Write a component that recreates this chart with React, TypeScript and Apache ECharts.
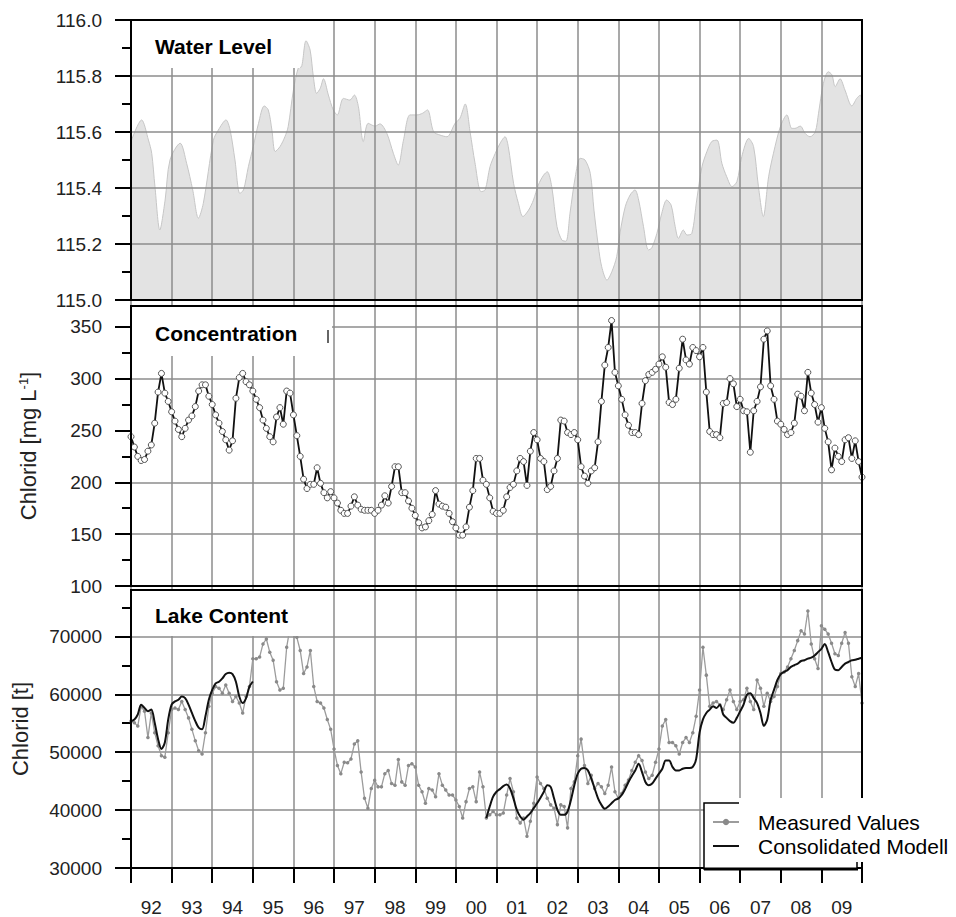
import React, { useEffect, useRef } from 'react';
import * as echarts from 'echarts';

// ---------- data ----------
const yearLabels = ['92', '93', '94', '95', '96', '97', '98', '99', '00', '01', '02', '03', '04', '05', '06', '07', '08', '09'];

// Water level (m), sampled along the curve: time (decimal year) and level
const waterT = [
  1992.0, 1992.26, 1992.43, 1992.51, 1992.59, 1992.71, 1992.84, 1992.96, 1993.21, 1993.37, 1993.52, 1993.66, 1993.78,
  1994.03, 1994.15, 1994.34, 1994.44, 1994.56, 1994.68, 1994.77, 1994.89, 1995.01, 1995.14, 1995.28, 1995.38, 1995.47,
  1995.55, 1995.67, 1995.79, 1995.87, 1996.0, 1996.12, 1996.2, 1996.31, 1996.41, 1996.49, 1996.57, 1996.66, 1996.74,
  1996.86, 1996.98, 1997.08, 1997.23, 1997.39, 1997.5, 1997.6, 1997.72, 1997.84, 1998.01, 1998.13, 1998.3, 1998.46,
  1998.58, 1998.71, 1998.87, 1999.04, 1999.18, 1999.3, 1999.45, 1999.61, 1999.78, 1999.98, 2000.1, 2000.23, 2000.35,
  2000.47, 2000.62, 2000.72, 2000.84, 2000.97, 2001.09, 2001.21, 2001.29, 2001.42, 2001.54, 2001.65, 2001.79, 2001.91,
  2002.03, 2002.16, 2002.25, 2002.36, 2002.49, 2002.61, 2002.71, 2002.81, 2002.94, 2003.06, 2003.18, 2003.31, 2003.4,
  2003.51, 2003.59, 2003.72, 2003.84, 2003.96, 2004.04, 2004.17, 2004.29, 2004.41, 2004.5, 2004.62, 2004.74, 2004.82,
  2004.95, 2005.07, 2005.19, 2005.3, 2005.4, 2005.48, 2005.6, 2005.69, 2005.81, 2005.93, 2006.06, 2006.18, 2006.3,
  2006.43, 2006.55, 2006.67, 2006.8, 2006.92, 2007.04, 2007.21, 2007.33, 2007.45, 2007.57, 2007.7, 2007.82, 2007.99,
  2008.15, 2008.27, 2008.35, 2008.48, 2008.6, 2008.72, 2008.85, 2008.93, 2009.05, 2009.17, 2009.26, 2009.34, 2009.46,
  2009.58, 2009.75, 2009.87, 2009.96, 2010.0,
];
const waterLevel = [
  115.566, 115.643, 115.571, 115.524, 115.405, 115.25, 115.357, 115.5, 115.56, 115.488, 115.393, 115.292, 115.345,
  115.571, 115.607, 115.643, 115.607, 115.5, 115.381, 115.393, 115.476, 115.548, 115.631, 115.693, 115.679, 115.607,
  115.53, 115.548, 115.583, 115.619, 115.75, 115.829, 115.833, 115.926, 115.893, 115.798, 115.738, 115.756, 115.79,
  115.732, 115.679, 115.661, 115.72, 115.714, 115.732, 115.69, 115.566, 115.631, 115.621, 115.629, 115.595, 115.524,
  115.482, 115.571, 115.661, 115.661, 115.667, 115.679, 115.601, 115.589, 115.583, 115.631, 115.649, 115.7, 115.6,
  115.49, 115.387, 115.393, 115.476, 115.524, 115.56, 115.583, 115.548, 115.417, 115.345, 115.298, 115.321, 115.357,
  115.411, 115.446, 115.458, 115.405, 115.262, 115.214, 115.21, 115.31, 115.44, 115.506, 115.5, 115.452, 115.321,
  115.19, 115.119, 115.071, 115.101, 115.155, 115.238, 115.333, 115.375, 115.393, 115.357, 115.262, 115.179, 115.185,
  115.238, 115.31, 115.357, 115.339, 115.262, 115.22, 115.25, 115.232, 115.238, 115.357, 115.476, 115.53, 115.566,
  115.571, 115.488, 115.44, 115.405, 115.423, 115.512, 115.577, 115.548, 115.405, 115.298, 115.44, 115.524, 115.619,
  115.661, 115.613, 115.613, 115.621, 115.595, 115.583, 115.601, 115.667, 115.774, 115.815, 115.804, 115.762, 115.79,
  115.75, 115.693, 115.72, 115.732, 115.714,
];

// Monthly samples from January 1992
const monthlyStart = 1992;

// Chloride concentration (mg/L), monthly
const concentration = [
  244, 234, 225, 221, 222, 230, 236, 257, 287, 305, 286, 278, 268, 259, 251, 244, 252, 260, 264, 273, 288, 294, 294, 283,
  275, 265, 257, 249, 241, 231, 240, 281, 301, 305, 297, 294, 288, 280, 272, 260, 252, 244, 239, 263, 272, 256, 288, 286,
  265, 245, 225, 203, 194, 198, 198, 214, 199, 190, 185, 191, 185, 180, 173, 170, 170, 177, 186, 178, 174, 173, 173, 173,
  170, 173, 178, 187, 180, 196, 215, 215, 190, 190, 182, 175, 168, 161, 156, 157, 163, 169, 192, 179, 177, 176, 170, 162,
  156, 149, 149, 157, 176, 192, 223, 223, 202, 198, 185, 172, 170, 170, 173, 186, 195, 198, 211, 223, 220, 197, 230, 248,
  241, 223, 220, 193, 196, 211, 223, 260, 259, 248, 246, 248, 241, 215, 206, 199, 211, 214, 239, 278, 313, 330, 356, 306,
  293, 280, 265, 255, 248, 248, 246, 276, 298, 304, 306, 309, 314, 321, 311, 277, 275, 280, 310, 338, 318, 314, 330, 327,
  321, 330, 287, 249, 246, 246, 243, 276, 277, 300, 295, 273, 280, 269, 268, 229, 269, 278, 292, 338, 346, 293, 280, 259,
  256, 251, 246, 248, 257, 285, 283, 269, 306, 286, 275, 258, 272, 252, 239, 212, 233, 225, 220, 241, 243, 223, 240, 220,
  205,
];

// Lake chloride content (t), measured, monthly
const lakeMeasured = [
  55360, 55070, 54500, 57900, 57060, 52520, 56770, 53370, 51100, 49400, 49120, 53370, 57350, 57630, 57350, 58760, 57350,
  55920, 53940, 51960, 50250, 49690, 53370, 57910, 60180, 61320, 61040, 60180, 61600, 60180, 58760, 59610, 58480, 56770,
  59610, 61320, 66140, 66140, 66420, 68690, 69540, 67270, 65860, 62170, 60750, 61040, 68120, 71500, 72000, 69830, 67560,
  63580, 64720, 67560, 61320, 58760, 58480, 57630, 55650, 53940, 50540, 47700, 46290, 48260, 48160, 48830, 51400, 51960,
  46560, 42030, 40330, 43730, 45150, 44010, 44010, 46290, 46850, 44580, 44300, 48720, 44870, 44300, 47700, 48010, 47450,
  44300, 43160, 41180, 43730, 43450, 42310, 46290, 44300, 43450, 42600, 42600, 41750, 40610, 38630, 41460, 43730, 44010,
  41460, 46560, 44010, 38630, 39190, 39760, 39190, 39190, 39480, 42600, 45440, 43160, 38630, 37780, 38630, 35500, 38060,
  41180, 45720, 44580, 43730, 42030, 40900, 40330, 37490, 40900, 40610, 36930, 43730, 44870, 49400, 52250, 47700, 44580,
  46010, 43730, 44580, 44010, 42880, 44300, 47450, 43160, 42030, 42880, 44300, 45210, 46850, 48260, 49400, 48550, 46560,
  45440, 46010, 48260, 50540, 54510, 55650, 51670, 51670, 51100, 49690, 51670, 52520, 51670, 53370, 56210, 60750, 68120,
  63300, 57910, 58480, 58760, 58190, 57350, 59040, 60750, 58760, 57350, 58760, 59040, 61040, 58760, 57350, 62460, 61040,
  57910, 60180, 58760, 59610, 61320, 63580, 63860, 64720, 66140, 67560, 69260, 70960, 70390, 74370, 68690, 66140, 64430,
  71810, 71240, 70390, 68810, 66990, 66700, 68810, 70680, 68810, 63020, 61320, 63580, 58480,
];

// Lake chloride content (t), consolidated model, monthly (two model runs)
const lakeModelEarly = [
  55360, 55650, 56500, 58200, 57630, 57060, 57350, 55070, 52250, 50540, 51670, 55650, 58200, 58760, 59040, 59610, 59330,
  58200, 56770, 55360, 54220, 53940, 56210, 59040, 60750, 61880, 62170, 62740, 63480, 63700, 63480, 62170, 59610, 58480,
  59330, 61300, 62200,
];
const lakeModelLateStart = 105; // month index where the second model run starts
const lakeModelLate = [
  38630, 40610, 42310, 43160, 43620, 44130, 44410, 43730, 42030, 40040, 38900, 38340, 38900, 39480, 40330, 41180, 42140,
  43160, 44300, 44010, 42030, 40040, 39190, 39190, 39760, 41740, 44300, 46290, 47140, 47250, 46850, 45440, 43730, 42030,
  40900, 40210, 40610, 41180, 41740, 42000, 42600, 43620, 44860, 45880, 46850, 47990, 46560, 44860, 44300, 44580, 45440,
  46290, 47140, 48550, 48550, 47450, 46850, 46850, 47140, 47250, 47250, 47450, 48840, 53370, 55650, 56770, 57350, 57910,
  57630, 58190, 56500, 55920, 55360, 55070, 55920, 57060, 58200, 59900, 60180, 59330, 58480, 56770, 54510, 55650, 59040,
  60750, 62460, 63480, 63860, 64160, 64720, 65010, 65290, 65740, 65860, 66140, 66310, 66700, 67270, 67840, 68690, 67270,
  65570, 64260, 64160, 64720, 65290, 65570, 65860, 65970, 66140, 66310,
];

const waterTicks = [115.0, 115.2, 115.4, 115.6, 115.8, 116.0];
const concTicks = [100, 150, 200, 250, 300, 350];
const concMinorTicks = [125, 175, 225, 275, 325];
const lakeTicks = [30000, 40000, 50000, 60000, 70000];
const lakeMinorTicks = [35000, 45000, 55000, 65000, 75000];

// ---------- style ----------
const FONT = '"Liberation Sans", Arial, Helvetica, sans-serif';
const GRID = '#8d8d8d';
const LABEL = '#222';

export default function App() {
  const ref = useRef<HTMLDivElement>(null);

  useEffect(() => {
    const chart = echarts.init(ref.current as HTMLDivElement, null, { renderer: 'svg' });

    const monthly = (arr: (number | null)[], offset = 0) =>
      arr.map((v, i) => [monthlyStart + (i + offset) / 12, v]);

    const modelData: any[] = [
      ...monthly(lakeModelEarly),
      [monthlyStart + lakeModelEarly.length / 12, null],
      ...monthly(lakeModelLate, lakeModelLateStart),
    ];

    const gridBase = { left: 131, width: 731, show: true, borderColor: '#000', borderWidth: 2, z: 4 };

    const catAxis = (g: number) => ({
      type: 'category',
      gridIndex: g,
      data: yearLabels,
      boundaryGap: true,
      position: 'bottom',
      z: g === 0 ? 3 : 0,
      axisLine: { show: true, lineStyle: { color: '#000', width: 2 } },
      axisTick: {
        show: true,
        length: g === 2 ? 15 : g === 0 ? 6 : 4,
        lineStyle: { color: g === 2 ? '#000' : GRID, width: g === 2 ? 2 : 1.5 },
      },
      axisLabel: { show: g === 2, interval: 0, fontSize: 19, color: LABEL, margin: 30, fontFamily: FONT },
      splitLine: { show: true, interval: 0, lineStyle: { color: GRID, width: 1.5 } },
    });
    const valAxis = (g: number) => ({ type: 'value', gridIndex: g, min: 1992, max: 2010, show: false });

    const yLabel = { fontSize: 19, color: LABEL, margin: 29, fontFamily: FONT };
    const majorTick = { show: true, length: 16, lineStyle: { color: '#000', width: 2 } };
    const helperAxis = (g: number, min: number, max: number, ticks: number[]) => ({
      type: 'value',
      gridIndex: g,
      min,
      max,
      position: 'left',
      axisLine: { show: false },
      axisLabel: { show: false },
      splitLine: { show: false },
      axisTick: { show: true, length: 9, customValues: ticks, lineStyle: { color: '#000', width: 2 } },
    });

    const option: any = {
      animation: false,
      textStyle: { fontFamily: FONT },
      grid: [
        { ...gridBase, top: 20, height: 280 },
        { ...gridBase, top: 306, height: 280 },
        { ...gridBase, top: 590, height: 282 },
      ],
      xAxis: [catAxis(0), valAxis(0), catAxis(1), valAxis(1), catAxis(2), valAxis(2)],
      yAxis: [
        {
          type: 'value',
          gridIndex: 0,
          min: 115,
          max: 116,
          interval: 0.2,
          z: 3,
          axisLine: { show: true, lineStyle: { color: '#000', width: 2 } },
          axisTick: { ...majorTick, customValues: waterTicks },
          minorTick: { show: true, splitNumber: 2, length: 9, lineStyle: { color: '#000', width: 2 } },
          axisLabel: { ...yLabel, customValues: waterTicks, formatter: (v: number) => v.toFixed(1) },
          splitLine: { show: true, lineStyle: { color: GRID, width: 1.5 } },
        },
        {
          type: 'value',
          gridIndex: 1,
          min: 100,
          max: 370,
          interval: 50,
          name: 'Chlorid [mg L{sup|-1}]',
          nameLocation: 'middle',
          nameGap: 92,
          nameTextStyle: {
            fontSize: 22,
            color: LABEL,
            fontFamily: FONT,
            rich: { sup: { fontSize: 13, verticalAlign: 'top', color: LABEL, fontFamily: FONT } },
          },
          axisLine: { show: true, lineStyle: { color: '#000', width: 2 } },
          axisTick: { ...majorTick, customValues: concTicks },
          axisLabel: { ...yLabel, customValues: concTicks, formatter: (v: number) => String(v) },
          splitLine: {
            show: true,
            lineStyle: { color: [GRID, GRID, GRID, 'rgba(0,0,0,0)', GRID, GRID, GRID], width: 1.5 },
          },
        },
        {
          type: 'value',
          gridIndex: 2,
          min: 30000,
          max: 78000,
          interval: 10000,
          name: 'Chlorid [t]',
          nameLocation: 'middle',
          nameGap: 100,
          nameTextStyle: { fontSize: 22, color: LABEL, fontFamily: FONT },
          axisLine: { show: true, lineStyle: { color: '#000', width: 2 } },
          axisTick: { ...majorTick, customValues: lakeTicks },
          axisLabel: { ...yLabel, customValues: lakeTicks, formatter: (v: number) => String(v) },
          splitLine: { show: true, lineStyle: { color: GRID, width: 1.5 } },
        },
        helperAxis(1, 100, 370, concMinorTicks),
        helperAxis(2, 30000, 78000, lakeMinorTicks),
      ],
      legend: {
        show: true,
        data: [
          { name: 'Measured Values', itemStyle: { color: '#8a8a8a' } },
          { name: 'Consolidated Modell', itemStyle: { opacity: 0 } },
        ],
        orient: 'vertical',
        left: 712,
        top: 811,
        itemWidth: 26,
        itemHeight: 8,
        itemGap: 2,
        padding: 0,
        selectedMode: false,
        z: 20,
        textStyle: { fontSize: 21, color: '#000', fontFamily: FONT, lineHeight: 22, padding: [0, 0, 0, 14] },
      },
      series: [
        {
          type: 'line',
          name: 'Water Level',
          xAxisIndex: 1,
          yAxisIndex: 0,
          data: waterT.map((t, i) => [t, waterLevel[i]]),
          showSymbol: false,
          smooth: 0.3,
          lineStyle: { color: '#c6c6c6', width: 1 },
          areaStyle: { color: '#e3e3e3', opacity: 1 },
          z: 2,
        },
        {
          type: 'line',
          name: 'Concentration',
          xAxisIndex: 3,
          yAxisIndex: 1,
          data: monthly(concentration),
          symbol: 'circle',
          symbolSize: 6,
          showAllSymbol: true,
          itemStyle: { color: '#fff', borderColor: '#555', borderWidth: 1 },
          lineStyle: { color: '#111', width: 1.8 },
          z: 2,
        },
        {
          type: 'line',
          name: 'Measured Values',
          xAxisIndex: 5,
          yAxisIndex: 2,
          data: monthly(lakeMeasured),
          symbol: 'circle',
          symbolSize: 3.5,
          showAllSymbol: true,
          itemStyle: { color: '#8a8a8a' },
          lineStyle: { color: '#9c9c9c', width: 1.3 },
          z: 2,
        },
        {
          type: 'line',
          name: 'Consolidated Modell',
          xAxisIndex: 5,
          yAxisIndex: 2,
          data: modelData,
          symbol: 'none',
          smooth: 0.3,
          connectNulls: false,
          itemStyle: { color: '#111' },
          lineStyle: { color: '#111', width: 2 },
          z: 3,
        },
      ],
      graphic: {
        elements: [
          { type: 'rect', z: 10, silent: true, shape: { x: 132, y: 21, width: 168, height: 47 }, style: { fill: '#fff' } },
          { type: 'rect', z: 10, silent: true, shape: { x: 132, y: 307, width: 200, height: 49 }, style: { fill: '#fff' } },
          { type: 'rect', z: 10, silent: true, shape: { x: 132, y: 591, width: 199, height: 45 }, style: { fill: '#fff' } },
          {
            type: 'text', z: 11, x: 155, y: 46,
            style: { text: 'Water Level', fontSize: 21, fontWeight: 'bold', fontFamily: FONT, fill: '#000', verticalAlign: 'middle' },
          },
          {
            type: 'text', z: 11, x: 155, y: 333,
            style: { text: 'Concentration', fontSize: 21, fontWeight: 'bold', fontFamily: FONT, fill: '#000', verticalAlign: 'middle' },
          },
          {
            type: 'text', z: 11, x: 155, y: 615,
            style: { text: 'Lake Content', fontSize: 21, fontWeight: 'bold', fontFamily: FONT, fill: '#000', verticalAlign: 'middle' },
          },
          { type: 'line', z: 11, silent: true, shape: { x1: 328, y1: 330, x2: 328, y2: 343 }, style: { stroke: '#333', lineWidth: 1.5 } },
          { type: 'rect', z: 12, silent: true, shape: { x: 704, y: 803, width: 153, height: 66 }, style: { fill: '#fff', stroke: '#000', lineWidth: 1.5 } },
          { type: 'line', z: 12, silent: true, shape: { x1: 704, y1: 869, x2: 858, y2: 869 }, style: { stroke: '#000', lineWidth: 3 } },
          { type: 'rect', z: 13, silent: true, shape: { x: 739, y: 798, width: 217, height: 64 }, style: { fill: '#fff' } },
        ],
      },
    };

    chart.setOption(option);
    return () => chart.dispose();
  }, []);

  return <div ref={ref} style={{ position: 'absolute', left: 0, top: 0, width: 956, height: 917 }} />;
}
